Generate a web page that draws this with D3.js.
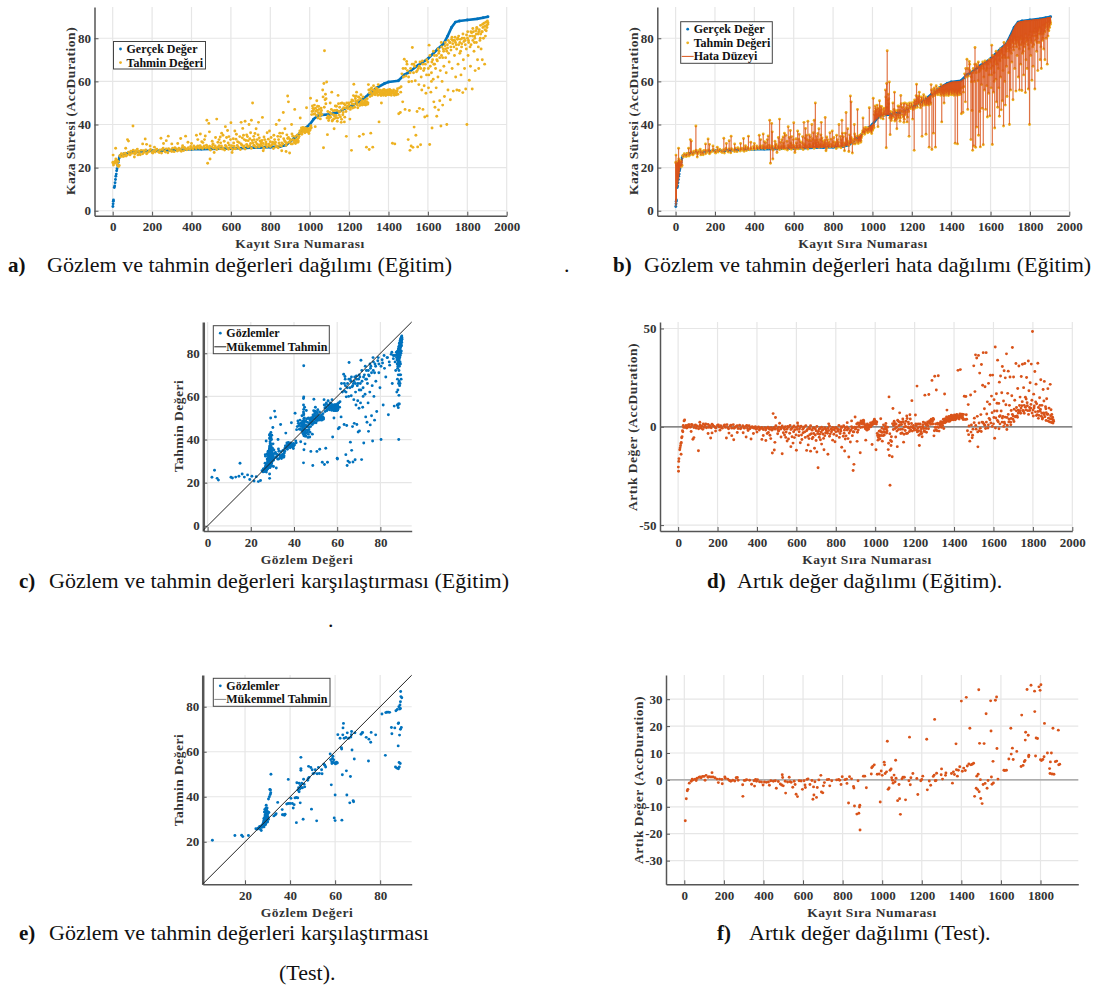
<!DOCTYPE html>
<html>
<head>
<meta charset="utf-8">
<script src="https://cdn.jsdelivr.net/npm/d3@7"></script>
<style>
html, body { margin: 0; padding: 0; background: #fff; }
svg text { font-family: "Liberation Serif", serif; }
.tick text { font-weight: bold; font-size: 13px; fill: #333; }
.lab { font-weight: bold; font-size: 13.5px; fill: #333; letter-spacing: 0.5px; }
.leg { font-weight: bold; font-size: 12px; fill: #111; }
.cap { font-size: 22px; fill: #111; }
.capb { font-size: 21px; font-weight: bold; fill: #111; }
</style>
</head>
<body>
<div id="res"></div>
<script>
/* colours */
var blue = "#0072BD", yellow = "#EDB120", red = "#D95319";

/* tick labels */
var indexTicks = [0,200,400,600,800,1000,1200,1400,1600,1800,2000];
var testIndexTicks = [0,200,400,600,800,1000,1200,1400,1600,1800];
var durationTicks = [0,20,40,60,80];
var testTicks = [20,40,60,80];
var residualTicks = [-50,0,50];
var testResidualTicks = [-30,-20,-10,0,10,20,30];

/* sorted true value: [record, duration] */
var trainCurve = [[1,2],[2,3.2],[3,4.4],[4,5],[8,10.8],[10,11.5],[12,13],[14,14.5],[16,16],[18,17],[20,18.5],[22,19.5],[25,21],[28,22.5],[30,23.5],[33,24.5],[36,25.2],[40,25.7],[60,26.5],[80,26.8],[100,27],[150,27.6],[200,27.8],[250,27.9],[300,28.1],[350,28.3],[400,28.5],[450,28.6],[500,28.7],[550,28.8],[600,28.9],[650,29],[700,29.2],[750,29.3],[800,29.5],[850,29.8],[880,30.5],[900,32],[920,33.5],[950,36],[980,38.5],[1000,40],[1020,42.5],[1040,44],[1060,44.4],[1100,44.7],[1140,45.5],[1180,47.5],[1220,49],[1260,51],[1300,54],[1340,57],[1380,59],[1400,59.7],[1450,60.3],[1480,63],[1500,64],[1550,67.5],[1600,70.5],[1650,75],[1680,77.5],[1700,81],[1720,85],[1740,87.5],[1760,88],[1800,88.5],[1850,89],[1880,89.5],[1905,90]];

/* training records: [record, true value, predicted value] */
var trainRecords = [
[1,2,22.5],[2,3.2,25.8],[3,4.4,22],[4,5,21.2],[8,10.8,22.5],[10,11.5,22.2],[12,13,22.6],[14,14.5,23],[15,15,29],[16,16,24],[18,17,22.6],[20,18.5,23.6],[22,19.5,21.5],[24,20.5,23],[26,21.5,20.8],[28,22.5,22.8],[30,23.5,20.5],[33,24.5,21],[36,25.2,25.5],
[40,25.7,25],[48,26,26.2],[56,26.4,25.3],[64,26.6,26.7],[72,26.7,25.8],[80,26.8,27.2],[88,26.9,25.9],[96,27,26.6],[104,27.1,28.1],[112,27.2,26.3],[120,27.3,27],[128,27.3,25.9],[136,27.4,26.6],[144,27.5,28],[152,27.6,26.4],[160,27.6,27.1],[168,27.7,28.2],[176,27.7,26.9],[184,27.7,27.5],[192,27.8,28.4],[200,27.8,27],[208,27.8,27.9],[216,27.8,27.2],[224,27.9,28.6],[232,27.9,27.4],[240,27.9,28.2],[248,27.9,26.8],[256,28,29],[264,28,27.6],[272,28,28.7],[280,28,26.9],[288,28.1,28.3],[296,28.1,27.8],[304,28.1,29],[312,28.2,27.4],[320,28.2,28.8],[328,28.2,27.7],[336,28.3,29],[344,28.3,28.1],[352,28.3,29.2],[360,28.4,27.9],[368,28.4,28.9],[376,28.4,28.3],[384,28.5,29.2],[392,28.5,28.5],[400,28.5,29.3],[408,28.5,28.6],[416,28.6,29.5],[424,28.6,28.9],[432,28.6,30],[440,28.6,29],[448,28.6,29.5],[456,28.7,28.9],[464,28.7,30],[472,28.7,29.1],[480,28.7,29.7],[488,28.7,29],[496,28.7,28.2],[504,28.7,29.6],[512,28.8,29],[520,28.8,30],[528,28.8,28.4],[536,28.8,29.5],[544,28.8,28.8],[552,28.8,30],[560,28.8,29.1],[568,28.9,28.2],[576,28.9,29.8],[584,28.9,29],[592,28.9,30.4],[600,28.9,29.2],[608,28.9,28.4],[616,28.9,29.9],[624,29,28.7],[632,29,30.3],[640,29,29.1],[648,29,28.4],[656,29,30.4],[664,29,29.4],[672,29.1,28.6],[680,29.1,30.8],[688,29.1,29.6],[696,29.2,30.2],[704,29.2,29],[712,29.2,31.5],[720,29.2,30],[728,29.2,29.4],[736,29.3,30.6],[744,29.3,29.7],[752,29.3,30.9],[760,29.3,30],[768,29.4,29],[776,29.4,30.5],[784,29.4,29.7],[792,29.4,30.9],[800,29.5,29.8],[808,29.5,30.5],[816,29.6,28.9],[824,29.6,30.9],[832,29.7,30],[840,29.7,29.2],[848,29.8,30.4],
[44,25.8,26.4],[52,26.1,25.2],[60,26.5,26.6],[68,26.6,25.4],[84,26.8,26.2],[92,26.9,27.6],[108,27.1,26.9],[116,27.2,27.8],[132,27.3,27.6],[140,27.4,26],[156,27.6,27.9],[172,27.7,26.4],[188,27.7,28],[204,27.8,26.8],[220,27.8,28.3],[236,27.9,27],[252,27.9,28.4],[268,28,27.2],[284,28,28.8],[300,28.1,27.5],[316,28.2,29.2],[332,28.3,28.2],[348,28.3,27.6],[364,28.4,29.4],[380,28.4,28.8],[396,28.5,29.8],[412,28.5,30.1],[428,28.6,29.6],[444,28.6,30.2],[460,28.7,29.4],[476,28.7,30.4],[492,28.7,29.9],[508,28.7,30.6],[524,28.8,29.2],[540,28.8,30.2],[556,28.8,28.6],[572,28.9,30.3],[588,28.9,28.5],[604,28.9,30.2],[620,28.9,28.8],[636,29,29.6],[652,29,31],[668,29,30],[684,29.1,29.9],[700,29.2,31.2],[716,29.2,30.4],[732,29.3,31],[748,29.3,30.4],[764,29.3,31.2],[780,29.4,30.9],[796,29.4,30.2],[812,29.5,31],[828,29.6,29.6],[844,29.7,31.4],
[66,26.6,29],[75,26.7,33],[80,26.8,32.3],[103,27.1,39.3],[110,27.2,24.9],[125,27.3,28.6],[152,27.6,31],[165,27.6,33.3],[172,27.7,30.8],[190,27.8,30],[212,27.8,29.5],[245,27.9,33.6],[258,28,31.2],[272,28,32.5],[282,28,34.6],[300,28.1,31],[330,28.2,31.2],[345,28.3,33.5],[355,28.3,30.2],[370,28.4,34.6],[382,28.4,31.8],[400,28.5,31.2],[425,28.6,35],[432,28.6,33],[445,28.6,35.6],[452,28.6,32],[470,28.7,34.7],[478,28.7,42],[482,28.7,22],[488,28.7,40.5],[491,28.7,36.6],[494,28.7,24],[505,28.7,32.2],[515,28.8,27],[522,28.8,34],[528,28.8,42.5],[540,28.8,33],[548,28.8,31.5],[553,28.8,36],[560,28.8,35],[572,28.9,39],[578,28.9,34],[583,28.9,37.2],[590,28.9,34.4],[600,28.9,40.8],[606,28.9,27],[612,28.9,33.4],[620,28.9,37],[628,29,35.5],[634,29,32],[645,29,34.4],[652,29,41],[660,29,38.2],[668,29,33],[672,29.1,41.5],[680,29.1,35.2],[688,29.1,32.5],[692,29.1,40],[700,29.2,36.2],[704,29.2,42],[710,29.2,50],[716,29.2,34.5],[722,29.2,35.8],[728,29.2,38],[734,29.3,33],[740,29.3,41],[748,29.3,32.4],[754,29.3,31.8],[760,29.3,43.3],[764,29.3,27.8],[772,29.4,33],[784,29.4,36.2],[796,29.4,37],[804,29.5,34],[812,29.5,31.8],[822,29.6,33],[830,29.6,40],[838,29.7,34.5],[845,29.7,42],[852,29.8,34.4],[858,29.9,27.8],[862,30,36],[866,30.2,45.6],[874,30.3,38],[880,30.5,27.5],[884,30.7,35.2],[888,31,53.2],[892,31.4,50.5],[898,31.8,26.8],[908,32.6,40],[914,33,34.6],
[458,28.7,31.6],[466,28.7,33],[510,28.8,31],[534,28.8,31.8],[546,28.8,34.2],[566,28.9,32.2],[586,28.9,31.4],[598,28.9,33],[614,28.9,31.4],[626,29,33.2],[642,29,31.6],[658,29,33.8],[664,29,35],[676,29.1,32.6],[684,29.1,34.4],[696,29.2,33.4],[708,29.2,32.6],[718,29.2,33],[726,29.2,31.9],[738,29.3,35.2],[744,29.3,33.8],[758,29.3,32.6],[768,29.4,34.2],[778,29.4,31.9],[790,29.4,33.2],[800,29.5,32],[818,29.6,35],[826,29.6,31.8],[842,29.7,33],[848,29.8,36],
[856,29.9,30],[864,30.1,31],[872,30.3,32.5],[880,30.5,30.4],[888,31,33.5],[896,31.6,31.8],[904,32.2,32.6],[912,32.9,31],[920,33.5,32.5],[924,33.8,47],[928,34.2,31.2],[932,34.5,33],[936,34.9,35],[940,35.2,31.8],[944,35.5,33.8],[948,35.8,36],[952,36.2,43],[956,36.5,37.2],[960,36.9,35.5],[964,37.2,37.8],[968,37.6,36.8],[972,37.9,38],[976,38.2,36.2],[980,38.5,37.4],[984,38.8,47.8],[988,39.1,36.6],[992,39.4,37.8],[996,39.7,35.8],[1000,40,37.2],[1004,40.5,52.2],[1008,41,38.5],[1012,41.5,46],[1016,42,47.5],[1020,42.5,44.8],[1024,42.8,49],[1028,43.1,39],[1032,43.4,46.2],[1036,43.7,51],[1040,44,48.5],[1044,44.1,45.5],[1048,44.2,47],[1052,44.3,44],[1056,44.3,45.6],[1060,44.4,46.5],[1066,44.4,56],[1070,44.4,29.2],[1072,44.4,59],[1075,44.5,74.2],[1078,44.5,51.5],[1080,44.5,54],[1083,44.5,52],[1086,44.5,59.7],[1090,44.6,35.3],[1093,44.6,44],[1096,44.6,41.8],[1100,44.7,43.5],[1104,44.8,50],[1108,44.8,45],[1112,44.9,55],[1116,44.9,42],[1120,45,44.5],[1124,45.1,38],[1128,45.2,46.5],[1132,45.3,43],[1136,45.4,48.5],[1140,45.5,41.5],[1144,45.7,53.5],[1148,45.9,46],[1152,46.1,48],[1156,46.3,43.5],[1160,46.5,41],[1164,46.7,50],[1168,46.9,44.5],[1172,47.1,47.8],[1176,47.3,41.2],[1180,47.5,49],[1184,47.7,46],[1186,47.8,34.5],[1192,48,48.5],[1198,48.3,50],[1204,48.5,42.5],[1208,48.6,48],[1212,48.7,28],[1216,48.9,49.5],[1220,49,51],[1224,49.2,58.7],[1228,49.4,48],[1232,49.6,52],[1236,49.8,53.2],[1240,50,50],[1244,50.2,47.8],[1248,50.4,52.8],[1252,50.6,34.5],[1256,50.8,49.6],[1260,51,53.8],[1264,51.3,49.8],[1268,51.6,51],[1272,51.9,35.5],[1276,52.2,49.2],[1280,52.5,50.6],[1284,52.8,49],[1288,53.1,29.5],[1292,53.4,52],[1296,53.7,50],[1298,53.9,58.5],[1302,54.1,28.4],[1306,54.4,53],[1310,54.7,36],[1314,55,57],[1318,55.3,54],[1320,55.5,29.5],[1324,55.8,58],[1328,56.1,55],[1332,56.4,53.8],[1336,56.7,57],[1340,57,54.5],[1344,57.3,55.5],[1348,57.6,58.5],[1352,57.9,41.2],[1356,58.1,54],[1360,58.3,55.8],[1364,58.5,50],[1368,58.7,54.2],[1372,58.8,56],[1376,58.9,54.5],[1380,59,55.6],[1384,59.2,54],[1388,59.4,55.8],[1392,59.5,53.8],[1396,59.6,56],[1400,59.7,54.6],[1404,59.8,55.4],[1408,59.8,54],[1412,59.9,55.8],[1416,59.9,54.5],[1420,60,31.3],[1424,60,55.5],[1428,60,54],[1432,60.1,31],[1436,60.1,55],[1440,60.2,53.8],[1444,60.2,55.5],[1448,60.3,54],[1452,60.5,45],[1456,60.7,57],[1460,61,45.6],[1464,61.3,57.5],[1468,61.5,63.5],[1472,61.8,50.5],[1476,62.4,62],[1480,63,70.3],[1484,63.2,47],[1488,63.4,62.5],[1492,63.6,69.2],[1496,63.8,65],[1500,64,33],[1503,64.2,59.8],[1506,64.4,46.5],[1509,64.6,28],[1512,64.8,66],[1515,65,30],[1518,65.3,60],[1521,65.5,75.7],[1524,65.7,29.4],[1527,65.9,64],[1530,66.1,38.8],[1533,66.3,67],[1536,66.5,60.3],[1539,66.7,35],[1542,66.9,64.5],[1545,67.1,46],[1548,67.3,29.6],[1551,67.5,66],[1554,67.7,58.5],[1557,67.9,47.5],[1560,68.1,69],[1563,68.3,30.6],[1566,68.5,62],[1569,68.7,56],[1572,68.9,69.5],[1575,69.1,47],[1578,69.3,65],[1581,69.5,58],[1584,69.7,43.5],[1587,69.9,68],[1590,70.1,54.5],[1593,70.2,63],[1596,70.3,44],[1600,70.5,69],[1603,70.8,57],[1606,71,76.8],[1609,71.3,30.7],[1612,71.5,67],[1615,71.8,55],[1618,72,64],[1621,72.3,38.4],[1624,72.6,70],[1627,72.9,61],[1630,73.2,50.5],[1633,73.5,72],[1636,73.8,48],[1639,74,66],[1642,74.3,57],[1645,74.5,43.8],[1648,74.8,69.5],[1651,75.1,62],[1654,75.3,46.8],[1657,75.6,74],[1660,75.9,51],[1663,76.2,65],[1666,76.4,39.3],[1669,76.7,72],[1672,77,60],[1675,77.3,49],[1678,77.5,75],[1681,77.9,67],[1684,78.3,53],[1687,78.8,76.5],[1690,79.3,71],[1693,79.8,64],[1696,80.3,40],[1699,80.8,77],[1702,81.3,56],[1705,81.9,73],[1708,82.5,69],[1711,83.1,78],[1714,83.7,51.5],[1717,84.3,74.5],[1720,85,79.5],[1723,85.5,66],[1726,86,79],[1729,86.4,55.5],[1732,86.8,76],[1735,87.1,72],[1738,87.4,80.5],[1741,87.6,62],[1744,87.7,77],[1747,87.8,56],[1750,87.8,79.5],[1753,87.9,68],[1756,87.9,77],[1759,88,55.8],[1762,88,73],[1765,88.1,79.5],[1768,88.1,63],[1771,88.2,76],[1774,88.2,80],[1777,88.3,54.8],[1780,88.3,70],[1783,88.3,78.5],[1786,88.4,66],[1789,88.4,79],[1792,88.4,56.5],[1795,88.5,75],[1798,88.5,40],[1801,88.5,80],[1804,88.6,72],[1807,88.6,78],[1810,88.6,60.5],[1813,88.6,81],[1816,88.7,67],[1819,88.7,77],[1822,88.7,82.5],[1825,88.8,56.5],[1828,88.8,79],[1831,88.8,83],[1834,88.8,74],[1837,88.9,81],[1840,88.9,65],[1843,88.9,83.5],[1846,88.9,78],[1849,89,84.5],[1852,89,70],[1855,89,82],[1858,89.1,66],[1861,89.1,84],[1864,89.2,79],[1867,89.2,86],[1870,89.3,75],[1873,89.3,83],[1876,89.4,70],[1879,89.4,85],[1882,89.5,80],[1885,89.5,87],[1888,89.6,68],[1890,89.6,84],[1892,89.7,81],[1894,89.7,87.5],[1896,89.8,83.5],[1898,89.8,86],[1900,89.9,85],[1902,89.9,88],[1904,90,86.5],[1905,90,87.2],
[1605,71,63],[1618,72,60],[1630,73.2,68],[1645,74.5,70],[1655,75.4,73],[1668,76.6,78],[1675,77.3,71],[1690,79.3,75],[1700,81,75.5],[1712,83.3,78],[1722,85.3,80.5],[1730,86.5,79],[1740,87.5,78],[1752,87.9,80],[1762,88,78],[1772,88.2,77.5],[1784,88.3,80],[1796,88.5,81.5],[1806,88.6,79],[1818,88.7,83],[1828,88.8,84.5],[1838,88.9,80],[1848,89,85],[1858,89.1,83],[1868,89.2,82],[1878,89.4,86.5],[1888,89.6,85.5],
[858,29.9,31.5],[868,30.2,33.4],[876,30.4,32],[884,30.7,31.4],[892,31.4,34],[900,32,33.2],[906,32.4,31],[910,32.8,35.6],[916,33.2,33],[922,33.6,31.6],[926,34,34.4],[930,34.4,32.4],[934,34.7,32],[938,35,33.2],[942,35.4,32.4],[946,35.7,34.6],[950,36,37],[954,36.4,36],[958,36.7,38.4],[962,37,36.2],[966,37.4,38.6],[970,37.8,37],[974,38.1,37.6],[978,38.4,38.4],[982,38.7,36.8],[986,39,38],[990,39.2,37.2],[994,39.6,36.6],[998,39.8,38.2],[1002,40.2,37.6],[1006,40.8,39.4],[1010,41.2,44.6],[1014,41.8,48.6],[1018,42.2,46.4],[1022,42.6,47.2],[1026,43,45],[1030,43.2,47.6],[1034,43.6,44.2],[1038,43.8,46.6],[1042,44,43],[1046,44.2,48.4],[1050,44.2,45],[1054,44.3,42.6],[1058,44.4,47.6],[1062,44.4,44.6],[1068,44.4,52.8],[1074,44.5,48],[1082,44.5,49.6],[1088,44.6,43],[1092,44.6,46],[1098,44.6,42.8],[1102,44.7,45.6],[1106,44.8,43.4],[1110,44.8,47],[1114,44.9,41.6],[1118,45,46.4],[1122,45.1,42.6],[1126,45.1,44],[1130,45.2,48.6],[1134,45.4,44.2],[1138,45.4,46.6],[1142,45.6,43],[1146,45.8,49.6],[1150,46,44.4],[1154,46.2,46],[1158,46.4,49.8],[1162,46.6,42.4],[1166,46.8,47],[1170,47,45.6],[1174,47.2,49.6],[1178,47.4,43.4],[1182,47.6,47.6],[1188,47.8,50],[1194,48.1,47.4],[1200,48.4,49.2],[1206,48.5,47],[1210,48.7,50.4],[1214,48.8,51.4],[1218,49,47.6],[1222,49.1,53.4],[1226,49.3,49.4],[1230,49.5,53],[1234,49.7,50.8],[1238,49.9,55],[1242,50.1,49],[1246,50.3,51.2],[1250,50.5,52.6],[1254,50.7,48.8],[1258,50.9,51.8],[1262,51.2,50.4],[1266,51.5,49],[1270,51.8,52.8],[1274,52.1,50],[1278,52.4,49.4],[1282,52.7,51.4],[1286,53,49.8],[1290,53.3,50.6],[1294,53.6,49.4],[1300,54,56],[1304,54.3,54.6],[1308,54.6,56.2],[1312,54.8,55],[1316,55.2,53.4],[1322,55.6,56],[1326,55.9,54.2],[1330,56.2,55.8],[1334,56.6,54.6],[1338,56.8,55.4],[1342,57.2,56.6],[1346,57.4,53.6],[1350,57.8,55],[1354,58,56],[1358,58.2,54.6],[1362,58.4,53.4],[1366,58.6,55.4],[1370,58.7,55],[1374,58.9,53.6],[1378,59,56.2],[1382,59.1,55],[1386,59.3,53.4],[1390,59.5,55],[1394,59.6,54.8],[1398,59.7,55.6],[1402,59.8,53.8],[1406,59.8,56.2],[1410,59.9,55],[1414,59.9,53.6],[1418,60,55.2],[1422,60,54.8],[1426,60,56],[1430,60.1,53.6],[1434,60.1,54.8],[1438,60.2,55.6],[1442,60.2,54.4],[1446,60.3,56.6],
[1462,61.1,55],[1474,62,66],[1486,63.3,66],[1494,63.7,68],[1502,64.1,62],[1510,64.7,64],[1520,65.4,68],[1528,66,68],[1538,66.6,69],[1546,67.2,65],[1556,67.8,67],[1564,68.4,66],[1574,69,68],[1582,69.6,66],[1594,70.2,70],[1602,70.7,66],[1610,71.4,72],[1620,72.2,69],[1628,73,74],[1634,73.6,68],[1644,74.4,72],[1652,75.2,75],[1660,75.9,71],[1670,76.8,76],[1680,77.8,74],[1688,79,78],[1696,80.3,74],[1704,81.7,79],[1716,84.1,76],[1726,86,77.5],[1736,87.2,79],[1746,87.8,75],[1756,87.9,81],[1766,88.1,74],[1778,88.3,82],[1790,88.4,77],[1802,88.5,83],[1814,88.6,76],[1826,88.8,81],[1836,88.9,78],[1846,88.9,82],[1856,89.1,76],[1866,89.2,80],[1876,89.4,83]
];

/* test set, observed vs predicted: [observed, predicted] */
var testObserved = [[5.5,20.7],[15.5,22.8],[18.5,22.9],[19,22.3],[21.5,22.8],[24.8,25.8],[25.4,25.6],[25.8,26],[26.2,26.2],[26.5,26.8],[26.8,25.6],[27,26.5],[27.2,25],[27.4,27.2],[27.6,26.4],[27.8,27.5],[28,26.8],[28,28],[28.2,27.3],[28.2,28.6],[28.3,29.2],[28.4,26.6],[28.5,27.8],[28.5,29.8],[28.6,28.4],[28.6,30.2],[28.7,27.4],[28.8,29],[28.8,31],[28.9,28.2],[28.9,32],[29,29.4],[29,33],[29.1,27.8],[29.1,30.6],[29.2,34],[29.2,29],[29.3,31.4],[29.3,35],[29.4,28.6],[29.4,36.2],[29.5,30],[29.6,32.6],[29.6,34.6],[29.7,29.4],[29.8,31],[29.9,33.6],[30,30.2],[30,32],[30.2,31],[30.4,39],[30.6,33],[30.8,40],[31,43.2],[31.2,41],[31.3,43],[31.4,41.8],[31.5,50],[28.4,30.4],[28.6,33.2],[28.8,34.4],[29,27.6],[29,31.8],[29.2,30.4],[29.4,33.4],[29.6,30.8],[29.8,29],[29.8,35],[30,28.8],[30.2,33],[30.4,30],[32.8,31.5],[33.5,32],[33.8,32.5],[34.5,37.5],[36.5,34.3],[36.6,32],[37,32],[37.5,31.8],[37.8,32.2],[38.5,36.8],[39.2,37],[39.2,47.7],[40,37],[40.4,39.3],[41,37],[41.4,35],[41.8,36.5],[42.2,39.5],[42.8,39.7],[42.8,28.5],[43,46.2],[43.4,39.5],[43.5,43],[43.8,44],[44,42.2],[44,46],[44.3,43.4],[44.5,37.3],[44.6,45],[44.8,52.5],[44.8,51.8],[44.8,57.5],[45,44],[45.2,46],[45.5,44],[45.8,30],[46,47.8],[46.2,45.6],[46.5,44.4],[47.8,47.3],[48,48],[48.2,53.5],[48.4,48.6],[49.2,53],[49.5,34.5],[49.8,52],[50.2,50.2],[50.8,50.5],[51.2,52],[51.8,29.3],[52,50.2],[52.6,53],[53,50.3],[54,52],[54.2,50.2],[55,54.5],[55.4,54],[55.8,53.2],[57.8,59],[58,56.5],[58.3,45.3],[58.5,55.6],[58.6,54.8],[58.8,57],[59,58],[59.2,55.2],[59.4,56.4],[59.6,30.6],[59.8,55],[60,29.4],[60,40.8],[60.2,54.6],[60.6,55.4],[61,55],[61.2,67.6],[62.2,66],[62.8,61.8],[62.9,61.2],[63,29.6],[63.2,49.8],[63.4,67.5],[63.5,70.6],[63.7,72.6],[64,66],[64.8,66.3],[65,51.5],[65.2,40.8],[65.4,68.4],[66,66],[66.5,37.3],[66.8,49],[67,66.5],[67.2,67.6],[67.3,69],[67.5,60.8],[68,38.2],[68.2,37.8],[68.5,56.8],[68.8,68.4],[71.5,67.8],[72,68.4],[72.2,68.6],[73.8,66.4],[74.8,55.9],[75,65.6],[75.8,64.2],[76,68.6],[78,67.5],[80.8,76.8],[82.3,58.4],[82.5,77.4],[83,77.6],[83.6,77.6],[84.2,77.5],[85,70.8],[85.2,68],[86.5,70.6],[86.8,53.2],[87,78.2],[87.5,52.7],[87.6,78.8],[88,62.6],[88,72.5],[88.1,52.4],[88.2,72.8],[88.3,80],[88.4,55.2],[88.5,53.2],[88.6,67.4],[88.7,79],[88.8,80.8],[88.9,54.8],[89,82.2],[89,79.2],[89,70],[89.1,86.8],[89.2,84.5],[89.4,70.8],[89.6,84]];

/* test set residuals: [record, residual] */
var testResiduals = [[5,-15.2],[10,-7],[15,-4],[18,-3.5],[25,-1.2],[35,-0.5],[40,0.3],[45,0],[55,0.3],[60,-0.2],[65,0.6],[75,1],[80,1.1],[85,0.8],[92,1.3],[100,1.3],[105,-0.1],[110,1.7],[120,1],[125,1.2],[135,1.1],[140,2.7],[145,1.1],[155,0.8],[165,0.3],[172,-1],[178,0.3],[190,0.2],[192,-1.4],[205,1.1],[207,0.6],[220,0.3],[228,-0.2],[235,-0.5],[245,-0.1],[255,-0.4],[262,0.8],[268,0.9],[272,-0.1],[295,-1.8],[296,-6.1],[303,-0.2],[310,-0.1],[315,0.1],[330,-0.1],[340,-1.6],[352,-0.3],[355,-2.3],[360,0.2],[365,-0.5],[370,0.1],[380,-0.7],[390,-0.8],[398,-1.9],[405,-0.8],[415,-0.9],[425,-0.8],[430,-2],[437,-0.3],[450,-0.5],[460,-0.3],[465,-3.1],[475,-0.6],[485,-1.5],[492,-1.9],[495,1.9],[497,0.9],[500,-2.2],[510,-0.5],[512,-4.9],[522,-0.8],[530,1],[535,-0.7],[540,-0.9],[548,-2.7],[555,-0.5],[560,-1.7],[565,-5.3],[572,-6.2],[580,-0.3],[590,-0.4],[597,-3.5],[605,-0.3],[610,-1.9],[612,-2.8],[620,0.2],[625,0.4],[635,-1.7],[645,-0.2],[650,-7.2],[653,-2.6],[655,-5.6],[660,-0.7],[668,-6.5],[672,-2.8],[680,0],[690,1.7],[693,-4.5],[700,-4.8],[703,-2.2],[708,-1],[722,0.1],[730,0.2],[735,-2.2],[745,-0.3],[770,0],[780,0.2],[785,-0.1],[792,-1.7],[798,1.2],[812,0.1],[820,0.3],[822,-1.3],[830,-8.6],[835,1.2],[845,0.4],[855,-2.4],[857,-3],[860,-9.7],[872,-12.7],[878,-0.3],[882,-12.4],[885,-10.1],[887,-9.4],[888,-18.6],[905,1.4],[912,1.4],[920,-2.9],[945,2.2],[947,4.5],[952,5],[960,5.6],[975,2.1],[985,2.2],[990,-8.2],[995,3.3],[1000,1.7],[1010,6.6],[1012,5.6],[1015,2.4],[1022,3],[1026,14.4],[1030,-3.5],[1035,-3],[1040,3.6],[1045,4.1],[1048,0.8],[1052,-0.1],[1055,-1.2],[1060,1.8],[1065,-0.7],[1068,7.3],[1070,0.6],[1078,-7.7],[1085,-1.7],[1088,-7],[1092,-12.8],[1100,0.4],[1105,1],[1112,1],[1118,-7.4],[1135,-0.3],[1138,15.9],[1142,-1.8],[1145,0.8],[1155,2.4],[1175,0.5],[1180,-5.4],[1195,-0.3],[1200,0.2],[1205,1.4],[1225,15.1],[1228,-3.7],[1238,-0.4],[1245,-2],[1258,1.3],[1263,1.8],[1265,22.5],[1268,-0.3],[1272,-0.2],[1275,2.5],[1298,1.9],[1300,4.1],[1305,0.3],[1320,1.7],[1322,2.6],[1350,2.4],[1355,-1.2],[1360,3],[1365,2],[1373,13.4],[1375,3.8],[1380,1.4],[1385,3.6],[1392,4.9],[1400,29.3],[1405,3.2],[1412,4.4],[1420,3.5],[1425,30.7],[1430,5.2],[1438,5.9],[1443,19.2],[1448,5.6],[1455,5.8],[1462,6.2],[1467,-6.1],[1475,-3.1],[1478,1.4],[1482,-3.6],[1485,2.1],[1488,33.5],[1490,-4.4],[1492,13.6],[1496,0.1],[1498,-6.9],[1505,-8.8],[1510,-1.7],[1515,13.5],[1520,-1.3],[1525,24.6],[1530,-3.1],[1535,-0.2],[1548,29.4],[1550,18.2],[1552,1.1],[1555,-1.6],[1560,6.9],[1562,-1.1],[1572,29.6],[1578,30.8],[1580,11.7],[1585,0.3],[1615,3.6],[1620,3.5],[1628,3.6],[1640,7.8],[1652,9.6],[1650,19.2],[1658,11.8],[1662,7.6],[1680,10.6],[1702,5],[1705,24.1],[1712,5.4],[1718,6.8],[1722,7.2],[1723,14.8],[1725,17.7],[1732,33.6],[1738,16.6],[1740,8.6],[1741,9.2],[1752,35.2],[1770,33],[1771,25.4],[1775,8.9],[1778,15.6],[1785,15.4],[1792,34.6],[1798,33.3],[1800,7.5],[1802,35.4],[1805,7.2],[1812,7.6],[1818,8.6],[1820,21],[1835,10],[1846,4.2],[1848,2.4],[1850,6.7],[1855,10],[1858,2.2],[1863,19.2],[1868,2.1],[1875,6.8],[1882,7],[1890,18.5],[1892,5.6],[1897,5.8]];

/* size of the graphic */
var svg = d3.select("#res").append("svg")
	.attr("width", 1096)
	.attr("height", 987);

function drawPanel(p) {
	var x = d3.scaleLinear().domain(p.xDomain).range([p.left, p.right]);
	var y = d3.scaleLinear().domain(p.yDomain).range([p.bottom, p.top]);
	var g = svg.append("g");

	/* grid */
	g.selectAll(".gx").data(p.xTicks).enter().append("line")
		.attr("x1", x).attr("x2", x).attr("y1", p.top).attr("y2", p.bottom)
		.style("stroke", "#e6e6e6").style("stroke-width", 1.2);
	g.selectAll(".gy").data(p.yTicks).enter().append("line")
		.attr("y1", y).attr("y2", y).attr("x1", p.left).attr("x2", p.right)
		.style("stroke", "#e6e6e6").style("stroke-width", 1.2);

	/* axes */
	var ax = g.append("g")
		.attr("transform", "translate(0," + p.bottom + ")")
		.call(d3.axisBottom(x).tickValues(p.xTicks).tickFormat(d3.format("d")).tickSizeInner(-4).tickSizeOuter(0).tickPadding(6.5));
	var ay = g.append("g")
		.attr("transform", "translate(" + p.left + ",0)")
		.call(d3.axisLeft(y).tickValues(p.yTicks).tickFormat(function(d) { return d < 0 ? "-" + (-d) : d; }).tickSizeInner(-4).tickSizeOuter(0).tickPadding(3.5));
	ax.select(".domain").style("stroke", "#555").style("stroke-width", 1.5);
	ay.select(".domain").style("stroke", "#555").style("stroke-width", p.spine || 1.5);
	g.selectAll(".tick line").style("stroke", "#555");

	/* axis labels */
	g.append("text").attr("class", "lab")
		.attr("text-anchor", "middle")
		.attr("x", p.xLabelX).attr("y", p.xLabelY)
		.text(p.xLabel);
	g.append("text").attr("class", "lab")
		.attr("text-anchor", "middle")
		.attr("transform", "translate(" + p.yLabelX + "," + p.yLabelY + ") rotate(-90)")
		.text(p.yLabel);

	p.marks(g, x, y);

	/* legend */
	if (p.legend) {
		var lg = g.append("g");
		lg.append("rect")
			.attr("x", p.legendBox[0]).attr("y", p.legendBox[1])
			.attr("width", p.legendBox[2]).attr("height", p.legendBox[3])
			.style("fill", "#fff").style("stroke", "#444").style("stroke-width", 1);
		p.legend.forEach(function(e, i) {
			var ly = p.legendBox[1] + 7.5 + i * 13.6;
			if (e.line) {
				lg.append("line")
					.attr("x1", p.legendBox[0] + 1).attr("x2", p.legendBox[0] + 13)
					.attr("y1", ly).attr("y2", ly)
					.style("stroke", e.color);
			} else {
				lg.append("circle")
					.attr("cx", p.legendBox[0] + 7).attr("cy", ly).attr("r", 1.4)
					.style("fill", e.color);
			}
			lg.append("text").attr("class", "leg")
				.attr("x", p.legendBox[0] + 13).attr("y", ly + 4)
				.text(e.text);
		});
	}
}

function dots(g, data, fx, fy, color, r) {
	g.append("g").selectAll("circle").data(data).enter().append("circle")
		.attr("cx", fx).attr("cy", fy).attr("r", r || 1.45)
		.style("fill", color);
}

function curve(g, x, y) {
	dots(g, trainCurve, function(d) { return x(d[0]); }, function(d) { return y(d[1]); }, blue);
	g.append("path").datum(trainCurve.slice(16))
		.attr("d", d3.line().x(function(d) { return x(d[0]); }).y(function(d) { return y(d[1]); }))
		.style("fill", "none").style("stroke", blue).style("stroke-width", 2.6);
}

/* a) observed and predicted */
drawPanel({
	left: 94.5, right: 506.7, top: 7, bottom: 215.7,
	xDomain: [-92.4, 2000], yDomain: [-2.3, 94.5],
	xTicks: indexTicks, yTicks: durationTicks,
	xLabel: "Kayıt Sıra Numarası", xLabelX: 300, xLabelY: 248,
	yLabel: "Kaza Süresi (AccDuration)", yLabelX: 75, yLabelY: 111,
	legend: [{ text: "Gerçek Değer", color: blue }, { text: "Tahmin Değeri", color: yellow }],
	legendBox: [113.5, 41.5, 92, 27.5],
	marks: function(g, x, y) {
		curve(g, x, y);
		dots(g, trainRecords, function(d) { return x(d[0]); }, function(d) { return y(d[2]); }, yellow);
	}
});

/* b) observed, predicted and the error between them */
drawPanel({
	left: 657.3, right: 1069.3, top: 7, bottom: 215.7,
	xDomain: [-93, 2000], yDomain: [-2.3, 94.5],
	xTicks: indexTicks, yTicks: durationTicks,
	xLabel: "Kayıt Sıra Numarası", xLabelX: 863, xLabelY: 248,
	yLabel: "Kaza Süresi (AccDuration)", yLabelX: 638, yLabelY: 111,
	legend: [{ text: "Gerçek Değer", color: blue }, { text: "Tahmin Değeri", color: yellow }, { text: "Hata Düzeyi", color: red, line: true }],
	legendBox: [680.7, 21.7, 91.6, 41.6],
	marks: function(g, x, y) {
		curve(g, x, y);
		dots(g, trainRecords, function(d) { return x(d[0]); }, function(d) { return y(d[2]); }, yellow);
		g.append("g").selectAll("line").data(trainRecords).enter().append("line")
			.attr("x1", function(d) { return x(d[0]); }).attr("x2", function(d) { return x(d[0]); })
			.attr("y1", function(d) { return y(d[1]); }).attr("y2", function(d) { return y(d[2]); })
			.style("stroke", red).style("stroke-width", 1.2).style("stroke-opacity", 0.8);
	}
});

/* c) observed against predicted, training */
drawPanel({
	left: 203.3, right: 411.7, top: 322, bottom: 531,
	xDomain: [-2, 94.5], yDomain: [-2.4, 94.5],
	xTicks: durationTicks, yTicks: durationTicks, spine: 2.5,
	xLabel: "Gözlem Değeri", xLabelX: 307, xLabelY: 564,
	yLabel: "Tahmin Değeri", yLabelX: 183, yLabelY: 426,
	legend: [{ text: "Gözlemler", color: blue }, { text: "Mükemmel Tahmin", color: "#222", line: true }],
	legendBox: [213.3, 325.7, 116, 28],
	marks: function(g, x, y) {
		dots(g, trainRecords, function(d) { return x(d[1]); }, function(d) { return y(d[2]); }, blue);
		g.append("line").attr("x1", x(-2)).attr("y1", y(-2)).attr("x2", x(94.5)).attr("y2", y(94.5))
			.style("stroke", "#222");
	}
});

/* d) residuals, training */
drawPanel({
	left: 660, right: 1072.3, top: 322, bottom: 531,
	xDomain: [-92, 2000], yDomain: [-53, 53.3],
	xTicks: indexTicks, yTicks: residualTicks,
	xLabel: "Kayıt Sıra Numarası", xLabelX: 867, xLabelY: 564,
	yLabel: "Artık Değer (AccDuration)", yLabelX: 637, yLabelY: 427,
	marks: function(g, x, y) {
		g.append("line").attr("x1", 660).attr("x2", 1072.3).attr("y1", y(0)).attr("y2", y(0))
			.style("stroke", "#666").style("stroke-width", 1.2);
		dots(g, trainRecords, function(d) { return x(d[0]); }, function(d) { return y(d[1] - d[2]); }, red);
	}
});

/* e) observed against predicted, test */
drawPanel({
	left: 202.7, right: 411.7, top: 675, bottom: 884.3,
	xDomain: [1.2, 94], yDomain: [1.1, 94.1],
	xTicks: testTicks, yTicks: testTicks, spine: 2.5,
	xLabel: "Gözlem Değeri", xLabelX: 307, xLabelY: 917,
	yLabel: "Tahmin Değeri", yLabelX: 183, yLabelY: 780,
	legend: [{ text: "Gözlemler", color: blue }, { text: "Mükemmel Tahmin", color: "#888", line: true }],
	legendBox: [213.3, 678.3, 116.7, 28],
	marks: function(g, x, y) {
		dots(g, testObserved, function(d) { return x(d[0]); }, function(d) { return y(d[1]); }, blue);
		g.append("line").attr("x1", x(1.2)).attr("y1", y(1.2)).attr("x2", x(94)).attr("y2", y(94))
			.style("stroke", "#222");
	}
});

/* f) residuals, test */
drawPanel({
	left: 666, right: 1078.3, top: 675, bottom: 884.3,
	xDomain: [-92.5, 1991], yDomain: [-38.8, 39],
	xTicks: testIndexTicks, yTicks: testResidualTicks,
	xLabel: "Kayıt Sıra Numarası", xLabelX: 872, xLabelY: 917,
	yLabel: "Artık Değer (AccDuration)", yLabelX: 643, yLabelY: 780,
	marks: function(g, x, y) {
		g.append("line").attr("x1", 666).attr("x2", 1078.3).attr("y1", y(0)).attr("y2", y(0))
			.style("stroke", "#999").style("stroke-width", 1.2);
		dots(g, testResiduals, function(d) { return x(d[0]); }, function(d) { return y(d[1]); }, red);
	}
});

/* captions under the panels */
var captions = [
	["a)", 8, 272, "capb"], ["Gözlem ve tahmin değerleri dağılımı (Eğitim)", 47, 272, "cap"], [".", 564, 272, "cap"],
	["b)", 613, 272, "capb"], ["Gözlem ve tahmin değerleri hata dağılımı (Eğitim)", 644, 272, "cap"],
	["c)", 19, 588, "capb"], ["Gözlem ve tahmin değerleri karşılaştırması (Eğitim)", 49, 588, "cap"],
	["d)", 707, 588, "capb"], ["Artık değer dağılımı (Eğitim).", 737, 588, "cap"],
	[".", 328, 627, "cap"],
	["e)", 19, 940, "capb"], ["Gözlem ve tahmin değerleri karşılaştırması", 49, 940, "cap"],
	["f)", 717, 940, "capb"], ["Artık değer dağılımı (Test).", 749, 940, "cap"],
	["(Test).", 279, 980, "cap"]
];
svg.append("g").selectAll("text").data(captions).enter().append("text")
	.attr("class", function(d) { return d[3]; })
	.attr("x", function(d) { return d[1]; })
	.attr("y", function(d) { return d[2]; })
	.text(function(d) { return d[0]; });
</script>
</body>
</html>
